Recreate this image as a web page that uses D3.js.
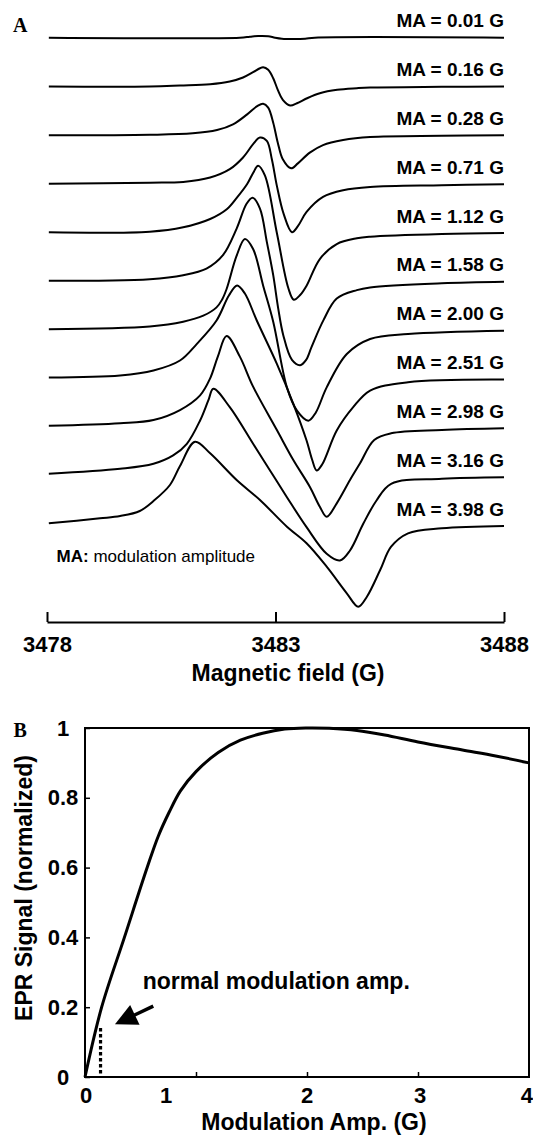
<!DOCTYPE html>
<html>
<head>
<meta charset="utf-8">
<script src="https://cdn.jsdelivr.net/npm/d3@7"></script>
<style>
  body { margin: 0; background: #fff; }
  text { font-family: "Liberation Sans", Arial, Helvetica, sans-serif; fill: #000; }
</style>
</head>
<body>
<svg id="chart"></svg>
<script>
// ---------- panel A: EPR spectra, [field (G), signal (a.u.)] ----------
var maLabels = ["0.01", "0.16", "0.28", "0.71", "1.12", "1.58", "2.00", "2.51", "2.98", "3.16", "3.98"];

var ma001 = [[3478.04,0],[3482.22,0],[3482.44,1],[3482.62,1.7],[3482.84,1.5],[3482.99,0],[3483.14,-1],[3483.40,-1.3],[3483.65,-1],[3483.86,0],[3488,0]];
var ma016 = [[3478.04,0],[3480.25,0],[3480.91,1],[3481.57,2.3],[3482.00,5],[3482.29,9],[3482.51,14.3],[3482.66,18.3],[3482.73,19.3],[3482.84,16.7],[3482.95,8.3],[3483.05,-3.3],[3483.16,-13.3],[3483.32,-19],[3483.47,-16.7],[3483.69,-11.7],[3483.97,-6.7],[3484.35,-3.3],[3484.78,-1.7],[3485.07,-1],[3486.64,-0.3],[3488,0]];
var ma028 = [[3478.04,0],[3480.25,0.5],[3481.19,2],[3481.72,5.3],[3482.07,11],[3482.38,21],[3482.60,29.3],[3482.73,31.7],[3482.84,27.7],[3482.95,12.7],[3483.05,-7.3],[3483.16,-24],[3483.34,-33],[3483.49,-28],[3483.75,-17.3],[3484.04,-9.7],[3484.48,-4.7],[3485.07,-1.7],[3486.64,-0.5],[3488,0]];
var ma071 = [[3478.04,0.5],[3480.25,1.5],[3480.98,2.3],[3481.57,6.7],[3482.00,15],[3482.29,26.7],[3482.51,40],[3482.66,46.7],[3482.81,43.3],[3482.92,25],[3483.03,-1.7],[3483.18,-30],[3483.36,-48],[3483.49,-42],[3483.68,-27.7],[3484.04,-12.7],[3484.48,-6],[3485.07,-2.7],[3486.64,-1],[3488,0]];
var ma112 = [[3478.04,0.7],[3480.25,1.3],[3480.98,5.7],[3481.57,14],[3481.94,24],[3482.16,35.6],[3482.38,49],[3482.51,60],[3482.62,67.3],[3482.77,57.3],[3483.03,0],[3483.28,-55],[3483.40,-66.7],[3483.54,-62],[3483.68,-52.7],[3483.97,-26],[3484.34,-11],[3484.78,-5.3],[3485.07,-3.7],[3486.64,-1],[3488,0]];
var ma158 = [[3478.04,1],[3480.25,2.7],[3480.98,6.7],[3481.49,13.3],[3481.85,26.7],[3482.15,53.3],[3482.37,78.3],[3482.50,84],[3482.66,73.3],[3482.81,40],[3482.95,6.7],[3483.06,-26.7],[3483.17,-53.3],[3483.36,-78],[3483.54,-83.3],[3483.67,-78],[3483.79,-65],[3484.05,-38.3],[3484.34,-16.7],[3484.78,-8.3],[3485.07,-5.6],[3486.64,-1.5],[3488,0]];
var ma200 = [[3478.04,1.5],[3480.25,4.3],[3480.98,9],[3481.42,15],[3481.71,23.3],[3481.83,31],[3481.93,41.7],[3482.15,75],[3482.33,91.7],[3482.51,81.7],[3482.73,45],[3482.95,9],[3483.25,-56.7],[3483.47,-80],[3483.72,-90],[3483.88,-82],[3484.12,-56.7],[3484.56,-23.3],[3485.07,-8.3],[3485.90,-3.3],[3488,0]];
var ma251 = [[3478.04,2],[3479.60,4],[3480.33,9],[3480.91,19],[3481.28,35.7],[3481.71,59],[3481.98,84],[3482.16,94],[3482.33,86],[3482.59,59],[3483.03,15.7],[3483.39,-24.3],[3483.68,-61],[3483.80,-80],[3483.90,-91],[3484.02,-85],[3484.34,-51],[3484.70,-27.7],[3485.07,-11],[3485.90,-2.7],[3488,0]];
var ma298 = [[3478.04,2.5],[3479.60,5],[3480.33,8.3],[3480.91,18.3],[3481.35,33],[3481.57,50],[3481.74,72],[3481.93,92.3],[3482.22,71.7],[3482.51,41.7],[3483.03,-1.7],[3483.39,-31.7],[3483.75,-58.4],[3483.97,-78.4],[3484.12,-88.4],[3484.34,-75],[3484.63,-51.7],[3484.85,-35],[3485.16,-11.7],[3485.53,-5],[3486.64,-1.7],[3488,0]];
var ma316 = [[3478.04,3.4],[3479.60,8.4],[3480.33,13.4],[3480.76,21.7],[3481.06,33.4],[3481.35,56.7],[3481.53,76.7],[3481.64,88.4],[3482.00,70],[3482.51,33.4],[3482.88,6.7],[3483.25,-20],[3483.68,-50],[3484.12,-76.6],[3484.41,-83.3],[3484.63,-73.3],[3484.92,-46.6],[3485.21,-23.3],[3485.53,-6.6],[3486.64,-1.6],[3488,0]];
var ma398 = [[3478.04,2.7],[3479.16,7.7],[3479.60,10],[3480.03,15],[3480.33,25],[3480.69,41],[3480.91,60],[3481.24,84.3],[3481.57,72.7],[3482.15,46],[3482.66,26],[3483.25,-0.7],[3483.68,-17.3],[3484.12,-40.7],[3484.56,-67.3],[3484.81,-80.7],[3485.00,-70.7],[3485.29,-44],[3485.53,-20.7],[3485.90,-7.3],[3486.64,-2.3],[3488,0]];

var spectra = [ma001, ma016, ma028, ma071, ma112, ma158, ma200, ma251, ma298, ma316, ma398];
var fieldTicks = [3478, 3483, 3488];

// ---------- panel B: signal vs modulation amplitude ----------
var modAmp    = [0, 0.15, 0.355, 0.56, 0.66, 0.76, 0.86, 1.0, 1.2, 1.4, 1.6, 1.8, 2.0, 2.2, 2.45, 2.7, 3.0, 3.4, 3.7, 4.0];
var eprSignal = [0, 0.2, 0.4, 0.6, 0.69, 0.76, 0.82, 0.875, 0.93, 0.965, 0.985, 0.997, 1.0, 0.999, 0.993, 0.98, 0.96, 0.937, 0.92, 0.9];
var modTicks = [1, 2, 3];
var modTickLabels = ["0", "1", "2", "3", "4"];
var modTickLabelPos = [0.01, 0.73, 2, 3.02, 3.98];
var signalTicks = [0, 0.2, 0.4, 0.6, 0.8, 1];
var normalMA = 0.14;
var arrowTail = [0.615, 0.203], arrowTip = [0.27, 0.151];

var W = 533, H = 1136;
var svg = d3.select("#chart").attr("width", W).attr("height", H);
svg.append("rect").attr("width", W).attr("height", H).attr("fill", "#fff");

// ===== panel A =====
var xA = d3.scaleLinear().domain([3478, 3488]).range([47, 504]);
var offA = d3.scaleLinear().domain([0, spectra.length - 1]).range([37.7, 526]);
var sigA = d3.scaleLinear().domain([0, 100]).range([0, -100]);

var lineA = d3.line()
  .x(d => xA(d[0]))
  .y(d => sigA(d[1]))
  .curve(d3.curveCatmullRom.alpha(0.5));

var traces = svg.append("g").selectAll("g")
  .data(spectra)
  .enter()
  .append("g")
  .attr("transform", (d, i) => "translate(0," + offA(i) + ")");

traces.append("path")
  .attr("d", lineA)
  .attr("fill", "none")
  .attr("stroke", "#000")
  .attr("stroke-width", 2)
  .attr("stroke-linejoin", "round");

traces.append("text")
  .attr("x", xA(3488))
  .attr("y", -10.5)
  .attr("text-anchor", "end")
  .attr("font-size", 19)
  .attr("font-weight", "bold")
  .text((d, i) => "MA = " + maLabels[i] + " G");

var note = svg.append("text")
  .attr("x", xA(3478.21))
  .attr("y", 562)
  .attr("font-size", 17);
note.append("tspan").attr("font-weight", "bold").text("MA:");
note.append("tspan").text(" modulation amplitude");

var axisA = d3.axisBottom(xA)
  .tickValues(fieldTicks)
  .tickSize(-10)
  .tickSizeOuter(0)
  .tickPadding(14)
  .tickFormat(d3.format("d"));

var gA = svg.append("g")
  .attr("transform", "translate(0,622)")
  .call(axisA);
gA.select(".domain").attr("stroke-width", 2);
gA.selectAll(".tick line").attr("stroke-width", 2);
gA.selectAll(".tick text").attr("font-size", 22).attr("font-weight", "bold");

svg.append("text")
  .attr("x", 288).attr("y", 681)
  .attr("text-anchor", "middle")
  .attr("font-size", 23).attr("font-weight", "bold")
  .text("Magnetic field (G)");

svg.append("text")
  .attr("x", 13).attr("y", 32)
  .style("font-family", "'Liberation Serif', 'Times New Roman', serif")
  .attr("font-size", 20).attr("font-weight", "bold")
  .text("A");

// ===== panel B =====
var xB = d3.scaleLinear().domain([0, 4]).range([85, 529]);
var yB = d3.scaleLinear().domain([0, 1]).range([1077, 728]);

svg.append("rect")
  .attr("x", xB(0)).attr("y", yB(1))
  .attr("width", xB(4) - xB(0)).attr("height", yB(0) - yB(1))
  .attr("fill", "none").attr("stroke", "#000").attr("stroke-width", 2);

// inward tick marks
var gxB = svg.append("g")
  .attr("transform", "translate(0," + yB(0) + ")")
  .call(d3.axisBottom(xB).tickValues(modTicks).tickSize(-5).tickFormat(""));
gxB.select(".domain").remove();
gxB.selectAll(".tick line").attr("stroke-width", 1.5);

var gyB = svg.append("g")
  .attr("transform", "translate(" + xB(0) + ",0)")
  .call(d3.axisLeft(yB).tickValues(signalTicks).tickSize(-5).tickFormat(d3.format("~g")));
gyB.select(".domain").remove();
gyB.selectAll(".tick line").attr("stroke-width", 1.5);
gyB.selectAll(".tick text")
  .attr("x", -22)
  .attr("text-anchor", "middle")
  .attr("font-size", 22)
  .attr("font-weight", "bold");

svg.append("g").selectAll("text")
  .data(modTickLabels)
  .enter()
  .append("text")
  .attr("x", (d, i) => xB(modTickLabelPos[i]))
  .attr("y", yB(0) + 26)
  .attr("text-anchor", "middle")
  .attr("font-size", 22)
  .attr("font-weight", "bold")
  .text(d => d);

var lineB = d3.line()
  .x((d, i) => xB(modAmp[i]))
  .y(d => yB(d))
  .curve(d3.curveCatmullRom.alpha(0.5));

svg.append("path")
  .datum(eprSignal)
  .attr("d", lineB)
  .attr("fill", "none")
  .attr("stroke", "#000")
  .attr("stroke-width", 3);

// dotted marker at normal modulation amplitude
svg.append("line")
  .attr("x1", xB(normalMA)).attr("x2", xB(normalMA))
  .attr("y1", yB(0.01)).attr("y2", yB(0.145))
  .attr("stroke", "#000").attr("stroke-width", 3.2)
  .attr("stroke-dasharray", "3.5,2.5");

// arrow
var tx = xB(arrowTail[0]), ty = yB(arrowTail[1]);
var px = xB(arrowTip[0]), py = yB(arrowTip[1]);
var len = Math.hypot(px - tx, py - ty), ux = (px - tx) / len, uy = (py - ty) / len;
var headL = 22, headW = 11;
var bx = px - ux * headL, by = py - uy * headL;
svg.append("line")
  .attr("x1", tx).attr("y1", ty).attr("x2", bx + ux * 2).attr("y2", by + uy * 2)
  .attr("stroke", "#000").attr("stroke-width", 3.5);
svg.append("path")
  .attr("d", "M" + px + "," + py +
             "L" + (bx - uy * headW) + "," + (by + ux * headW) +
             "L" + (bx + uy * headW) + "," + (by - ux * headW) + "Z")
  .attr("fill", "#000");

svg.append("text")
  .attr("x", xB(0.52)).attr("y", yB(0.251))
  .attr("font-size", 23).attr("font-weight", "bold")
  .text("normal modulation amp.");

svg.append("text")
  .attr("x", 314).attr("y", 1130)
  .attr("text-anchor", "middle")
  .attr("font-size", 23).attr("font-weight", "bold")
  .text("Modulation Amp. (G)");

svg.append("text")
  .attr("transform", "translate(32,888) rotate(-90)")
  .attr("text-anchor", "middle")
  .attr("font-size", 23).attr("font-weight", "bold")
  .text("EPR Signal (normalized)");

svg.append("text")
  .attr("x", 13.5).attr("y", 737)
  .style("font-family", "'Liberation Serif', 'Times New Roman', serif")
  .attr("font-size", 20).attr("font-weight", "bold")
  .text("B");
</script>
</body>
</html>
